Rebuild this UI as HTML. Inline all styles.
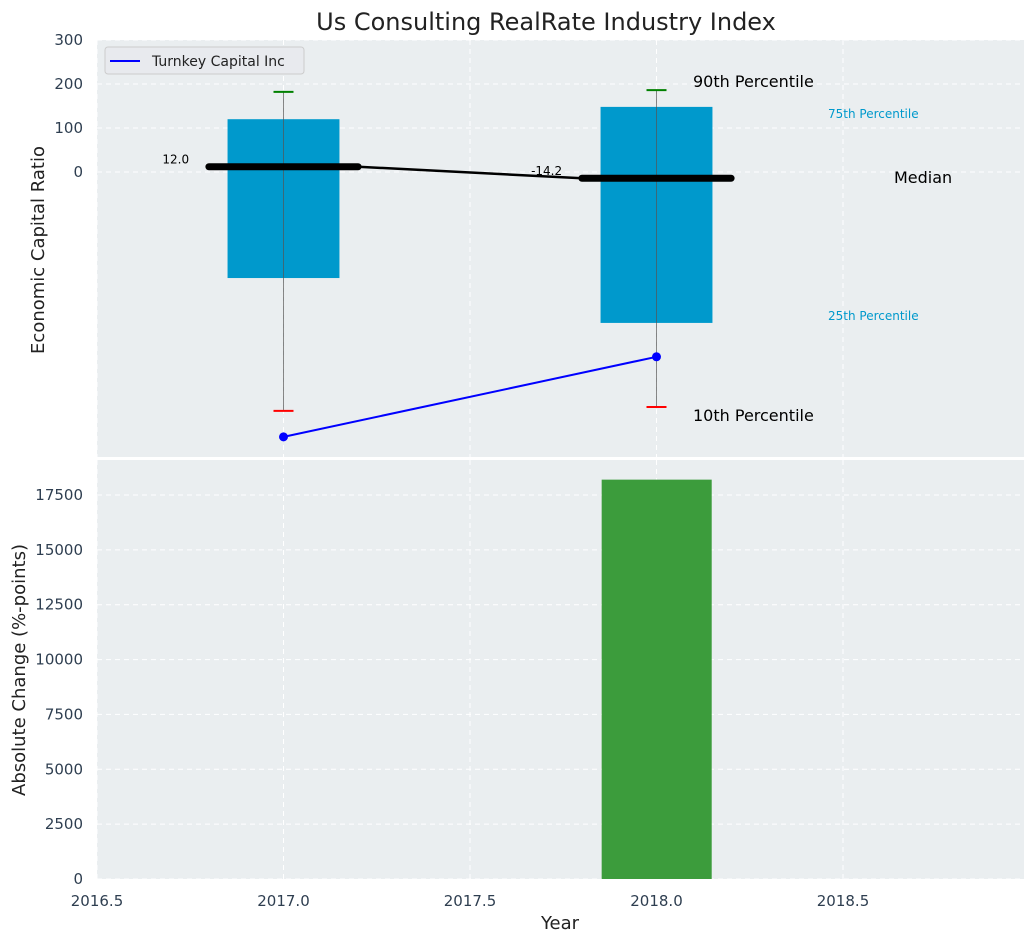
<!DOCTYPE html>
<html><head><meta charset="utf-8"><style>
body{margin:0;background:#fff;font-family:"DejaVu Sans","Liberation Sans",sans-serif}
svg text{font-family:"DejaVu Sans","Liberation Sans",sans-serif}
</style></head><body>
<svg id="c" width="1035" height="942" xmlns="http://www.w3.org/2000/svg"></svg>
<script>
const years=[2017,2018];
const p10=[-543,-534], p25=[-241,-343], med=[12.0,-14.2], p75=[120,148], p90=[182,186];
const company=[-602,-420];
const changeYears=[2018];
const changeVals=[18200];
const topTicks=[0,100,200,300];
const botTicks=[0,2500,5000,7500,10000,12500,15000,17500];
const xTicks=[2016.5,2017.0,2017.5,2018.0,2018.5];

const NS="http://www.w3.org/2000/svg",svg=document.getElementById('c');
function el(t,a,txt,parent){const e=document.createElementNS(NS,t);for(const k in a)e.setAttribute(k,a[k]);if(txt!=null)e.textContent=txt;(parent||svg).appendChild(e);return e;}
const L=97,R=1024,T1=40,B1=457,T2=460,B2=879;
const x=v=>L+(v-2016.5)*373;
const y1=v=>172-v*0.44;
const y2=v=>B2-v*(384/17500);

let t=el('text',{x:546,y:30,'font-size':24,'text-anchor':'middle',fill:'#222'},'Us Consulting RealRate Industry Index');

let r=el('rect',{x:L,y:T1,width:R-L,height:B1-T1,fill:'#eaeef0'});

r=el('rect',{x:L,y:T2,width:R-L,height:B2-T2,fill:'#eaeef0'});

xTicks.forEach(v=>{[[T1,B1],[T2,B2]].forEach(([a,b])=>{const g=el('line',{x1:x(v),x2:x(v),y1:a,y2:b,stroke:'#fff','stroke-dasharray':'5,4','stroke-width':1});});});
topTicks.forEach(v=>{const g=el('line',{x1:L,x2:R,y1:y1(v),y2:y1(v),stroke:'#fff','stroke-dasharray':'5,4'});
const tx=el('text',{x:L-14,y:y1(v)+5,'font-size':15,'text-anchor':'end',fill:'#2e3e50'},v);});
botTicks.forEach(v=>{const g=el('line',{x1:L,x2:R,y1:y2(v),y2:y2(v),stroke:'#fff','stroke-dasharray':'5,4'});
const tx=el('text',{x:L-14,y:y2(v)+5,'font-size':15,'text-anchor':'end',fill:'#2e3e50'},v);});
xTicks.forEach(v=>{const tx=el('text',{x:x(v),y:906,'font-size':15,'text-anchor':'middle',fill:'#2e3e50'},v.toFixed(1));});
years.forEach((yr,i)=>{
 const b=el('rect',{x:x(yr-0.15),y:y1(p75[i]),width:0.3*373,height:y1(p25[i])-y1(p75[i]),fill:'#0099cc'});
 
 const w=el('line',{x1:x(yr),x2:x(yr),y1:y1(p90[i]),y2:y1(p10[i]),stroke:'#555','stroke-width':1,opacity:0.7});
 
 const c1=el('line',{x1:x(yr)-10,x2:x(yr)+10,y1:y1(p90[i]),y2:y1(p90[i]),stroke:'green','stroke-width':2});
 
 const c2=el('line',{x1:x(yr)-10,x2:x(yr)+10,y1:y1(p10[i]),y2:y1(p10[i]),stroke:'red','stroke-width':2});
 
});
const mc=el('line',{x1:x(years[0]+0.2),y1:y1(med[0]),x2:x(years[1]-0.2),y2:y1(med[1]),stroke:'#000','stroke-width':2.5});

years.forEach((yr,i)=>{
 const m=el('line',{x1:x(yr-0.2),x2:x(yr+0.2),y1:y1(med[i]),y2:y1(med[i]),stroke:'#000','stroke-width':7,'stroke-linecap':'round'});
 
 const lb=el('text',{x:x(yr-0.253),y:y1(med[i])-3,'font-size':12,'text-anchor':'end',fill:'#000'},med[i].toFixed(1));
 
});
const pl=el('polyline',{points:years.map((yr,i)=>x(yr)+','+y1(company[i])).join(' '),fill:'none',stroke:'blue','stroke-width':2});

years.forEach((yr,i)=>{const d=el('circle',{cx:x(yr),cy:y1(company[i]),r:4.5,fill:'blue'});});
const ann=[[693,87,'90th Percentile',16,'#000'],[828,118,'75th Percentile',12,'#0099cc'],[894,183,'Median',16,'#000'],[828,320,'25th Percentile',12,'#0099cc'],[693,421,'10th Percentile',16,'#000']];
ann.forEach(a=>{const tx=el('text',{x:a[0],y:a[1],'font-size':a[3],fill:a[4]},a[2]);});
const lg=el('g',{});
el('rect',{x:105,y:47,width:199,height:27,rx:3,fill:'#e8eaee',stroke:'#ccc'},null,lg);
el('line',{x1:110,x2:140,y1:61,y2:61,stroke:'blue','stroke-width':2},null,lg);
el('text',{x:152,y:66,'font-size':14,fill:'#222'},'Turnkey Capital Inc',lg);
changeYears.forEach((yr,i)=>{const b=el('rect',{x:x(yr-0.147),y:y2(changeVals[i]),width:0.295*373,height:B2-y2(changeVals[i]),fill:'#3c9c3c'});});
t=el('text',{x:0,y:0,'font-size':18,'text-anchor':'middle',fill:'#222',transform:'translate(44,250) rotate(-90)'},'Economic Capital Ratio');
t=el('text',{x:0,y:0,'font-size':18,'text-anchor':'middle',fill:'#222',transform:'translate(25,670) rotate(-90)'},'Absolute Change (%-points)');
t=el('text',{x:560,y:929,'font-size':18,'text-anchor':'middle',fill:'#222'},'Year');
</script>
</body></html>
